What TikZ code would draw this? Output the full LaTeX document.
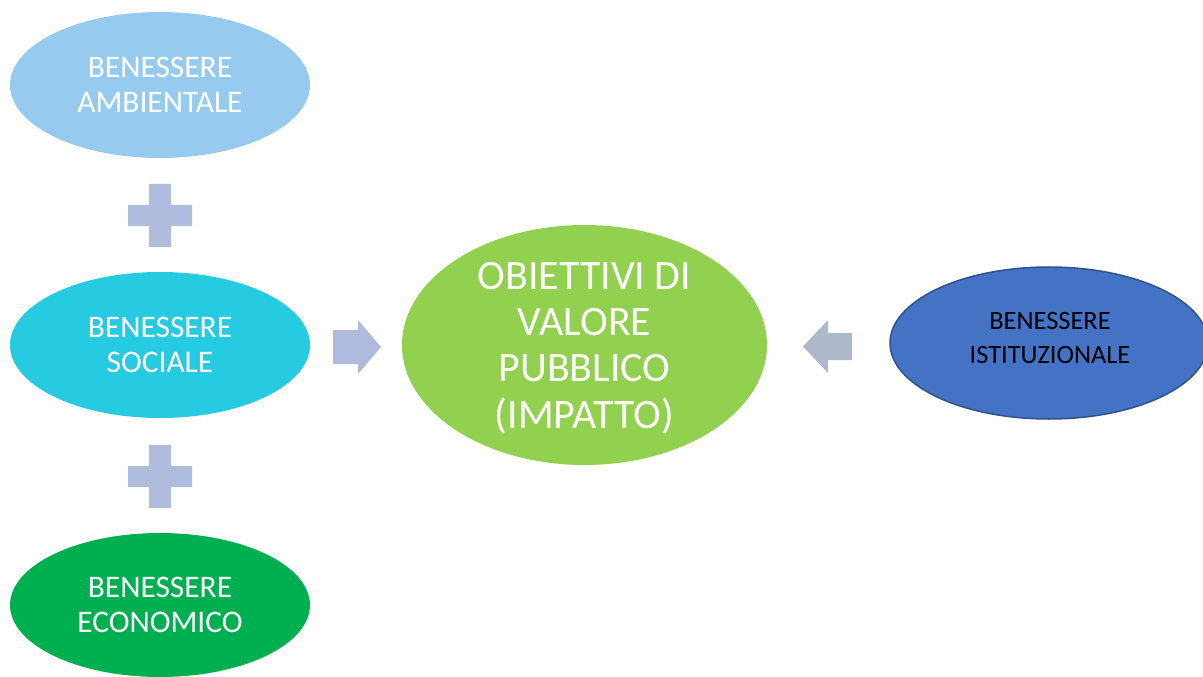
\documentclass[tikz,border=0pt]{standalone}
\usepackage{fontspec}
\setmainfont{Carlito}
\usetikzlibrary{shapes.geometric}
\definecolor{cAmb}{HTML}{96CBEF}
\definecolor{cSoc}{HTML}{26CBE2}
\definecolor{cEco}{HTML}{00B050}
\definecolor{cObj}{HTML}{92D050}
\definecolor{cIst}{HTML}{4472C4}
\definecolor{cIstB}{HTML}{2F528F}
\definecolor{cPlus}{HTML}{B0BCDE}
\definecolor{cArrR}{HTML}{AFBADE}
\definecolor{cArrL}{HTML}{ADB9CA}
\tikzset{
  blob/.style={ellipse, inner sep=0pt, align=center, text=white},
  small/.style={font=\fontsize{31.5}{34.5}\selectfont},
  txt/.style={inner sep=0pt, align=center},
}
\begin{document}
\begin{tikzpicture}[x=1bp,y=-1bp]
\useasboundingbox (0,0) rectangle (1203,677);
\clip (0,0) rectangle (1203,677);
\fill[white] (0,0) rectangle (1203,677);
% ellipses
\node[blob, small, fill=cAmb, minimum width=300bp, minimum height=146bp] (amb) at (160,85) {BENESSERE\\AMBIENTALE};
\node[blob, small, fill=cSoc, minimum width=300bp, minimum height=146bp] (soc) at (160,345) {BENESSERE\\SOCIALE};
\node[blob, small, fill=cEco, minimum width=300bp, minimum height=144bp] (eco) at (160,605) {BENESSERE\\ECONOMICO};
\node[blob, fill=cObj, minimum width=365bp, minimum height=240bp] (obj) at (584.5,345) {};
\node[txt, text=white, font=\fontsize{42}{46.5}\selectfont] (objT) at (584.5,348) {OBIETTIVI DI\\VALORE\\PUBBLICO\\(IMPATTO)};
\node[blob, fill=cIst, draw=cIstB, line width=1.5bp, minimum width=318bp, minimum height=152bp] (ist) at (1049,343) {};
\node[txt, text=black, font=\fontsize{26.5}{34}\selectfont] (istT) at (1050,338) {BENESSERE\\ISTITUZIONALE};
% plus signs
\fill[cPlus] (149,184) rectangle (171,247) (128,205) rectangle (192,226);
\fill[cPlus] (149,445) rectangle (171,508) (128,466) rectangle (192,487);
% arrows
\fill[cArrR] (333,330) -- (358,330) -- (358,320) -- (381,347) -- (358,374) -- (358,364) -- (333,364) -- cycle;
\fill[cArrL] (852,333) -- (828,333) -- (828,320) -- (803,346.5) -- (828,373) -- (828,360) -- (852,360) -- cycle;
\end{tikzpicture}
\end{document}
